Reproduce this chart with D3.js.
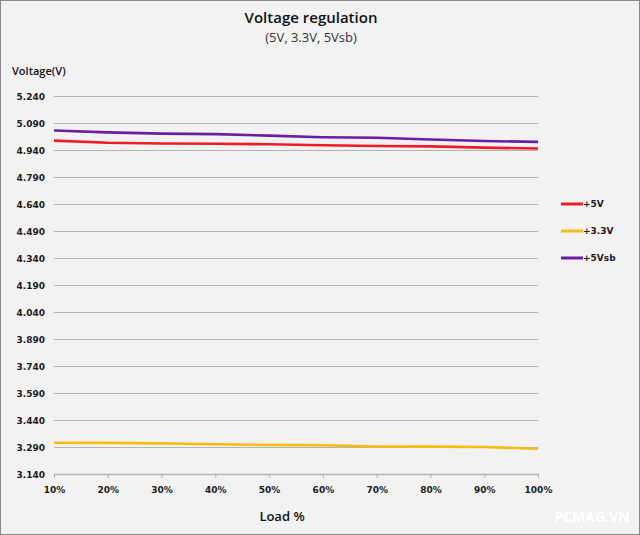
<!DOCTYPE html>
<html>
<head>
<meta charset="utf-8">
<script src="https://cdn.jsdelivr.net/npm/d3@7"></script>
<style>
  body { margin: 0; background: #fff; }
  svg { display: block; }
</style>
</head>
<body>
<svg width="640" height="535"></svg>
<script>
    let width = 640;
    let height = 535;
    let margin = { top: 96, right: 102, bottom: 61, left: 54 };

    // data
    let loads = ["10%", "20%", "30%", "40%", "50%", "60%", "70%", "80%", "90%", "100%"];
    let v5 = [4.992, 4.980, 4.976, 4.975, 4.972, 4.966, 4.962, 4.960, 4.953, 4.948];
    let v33 = [3.314, 3.313, 3.310, 3.305, 3.302, 3.300, 3.293, 3.292, 3.290, 3.280];
    let v5sb = [5.048, 5.038, 5.031, 5.028, 5.020, 5.011, 5.008, 4.998, 4.990, 4.985];
    let yTicks = [3.140, 3.290, 3.440, 3.590, 3.740, 3.890, 4.040, 4.190, 4.340, 4.490, 4.640, 4.790, 4.940, 5.090, 5.240];

    let series = [
        { name: "+5V", values: v5, color: "#ee1c24" },
        { name: "+3.3V", values: v33, color: "#f7bb12" },
        { name: "+5Vsb", values: v5sb, color: "#6a1fa0" }
    ];

    let svg = d3.select("svg");

    svg.append("rect")
        .attr("x", 0.5).attr("y", 0.5)
        .attr("width", width - 1).attr("height", height - 1)
        .style("fill", "#f2f2f2")
        .style("stroke", "#8a8a8a")
        .style("stroke-width", 1);

    let x = d3.scalePoint()
        .domain(loads)
        .range([margin.left, width - margin.right]);

    let y = d3.scaleLinear()
        .domain([3.140, 5.240])
        .range([height - margin.bottom, margin.top]);

    // gridlines + y labels
    let yAxisSettings = d3.axisLeft(y)
        .tickValues(yTicks)
        .tickSize(-(width - margin.right - margin.left))
        .tickPadding(9)
        .tickFormat(d3.format(".3f"));

    let yAxisTicks = svg.append("g")
        .attr("class", "y axis")
        .attr("transform", `translate(${margin.left}, 0)`)
        .call(yAxisSettings);
    yAxisTicks.select(".domain").remove();
    yAxisTicks.selectAll("line").style("stroke", "#b4b4b4").style("stroke-width", 1.2);
    yAxisTicks.selectAll("text")
        .style("font-family", "DejaVu Sans")
        .style("font-size", "9px")
        .style("fill", "#1a1a1a")
        .style("font-weight", "bold")
        .attr("dy", "0.35em");

    let xAxisSettings = d3.axisBottom(x)
        .tickSizeInner(4)
        .tickSizeOuter(0)
        .tickPadding(9);

    let xAxisTicks = svg.append("g")
        .attr("class", "x axis")
        .attr("transform", `translate(0, ${y(3.140)})`)
        .call(xAxisSettings);
    xAxisTicks.select(".domain").style("stroke", "#b4b4b4").style("stroke-width", 1.5);
    xAxisTicks.selectAll("line").style("stroke", "#b4b4b4");
    xAxisTicks.selectAll("text")
        .style("font-family", "DejaVu Sans")
        .style("font-size", "9px")
        .style("font-weight", "bold")
        .style("fill", "#1a1a1a");

    let line = d3.line()
        .x((d, i) => x(loads[i]))
        .y(d => y(d));

    svg.append("g")
        .selectAll(".line")
        .data(series)
        .join("path")
        .attr("class", "line")
        .attr("d", d => line(d.values))
        .style("fill", "none")
        .style("stroke", d => d.color)
        .style("stroke-width", "2.6px");

    // legend
    let legend = svg.append("g")
        .selectAll("g")
        .data(series)
        .join("g")
        .attr("transform", (d, i) => `translate(561, ${204 + i * 27})`);
    legend.append("line")
        .attr("x1", 0).attr("x2", 22)
        .style("stroke", d => d.color)
        .style("stroke-width", 3);
    legend.append("text")
        .attr("x", 22).attr("dy", "0.35em")
        .text(d => d.name)
        .style("font-family", "DejaVu Sans")
        .style("font-size", "9px")
        .style("font-weight", "bold")
        .style("fill", "#1a1a1a");

    // titles
    svg.append("text")
        .attr("x", 311).attr("y", 23)
        .attr("text-anchor", "middle")
        .text("Voltage regulation")
        .style("font-family", "Open Sans")
        .style("font-size", "15px")
        .style("font-weight", "600")
        .style("fill", "#111");

    svg.append("text")
        .attr("x", 311).attr("y", 42)
        .attr("text-anchor", "middle")
        .text("(5V, 3.3V, 5Vsb)")
        .style("font-family", "Open Sans")
        .style("font-size", "13px")
        .style("fill", "#333");

    svg.append("text")
        .attr("x", 12).attr("y", 75)
        .text("Voltage(V)")
        .style("font-family", "Open Sans")
        .style("font-size", "11px")
        .style("font-weight", "600")
        .style("fill", "#111");

    svg.append("text")
        .attr("x", 282).attr("y", 521)
        .attr("text-anchor", "middle")
        .text("Load %")
        .style("font-family", "Open Sans")
        .style("font-size", "13px")
        .style("font-weight", "600")
        .style("fill", "#111");

    svg.append("text")
        .attr("x", 592).attr("y", 522)
        .attr("text-anchor", "middle")
        .text("PCMAG.VN")
        .style("font-family", "Open Sans")
        .style("font-size", "14px")
        .style("font-weight", "bold")
        .style("fill", "#ffffff");
</script>
</body>
</html>
